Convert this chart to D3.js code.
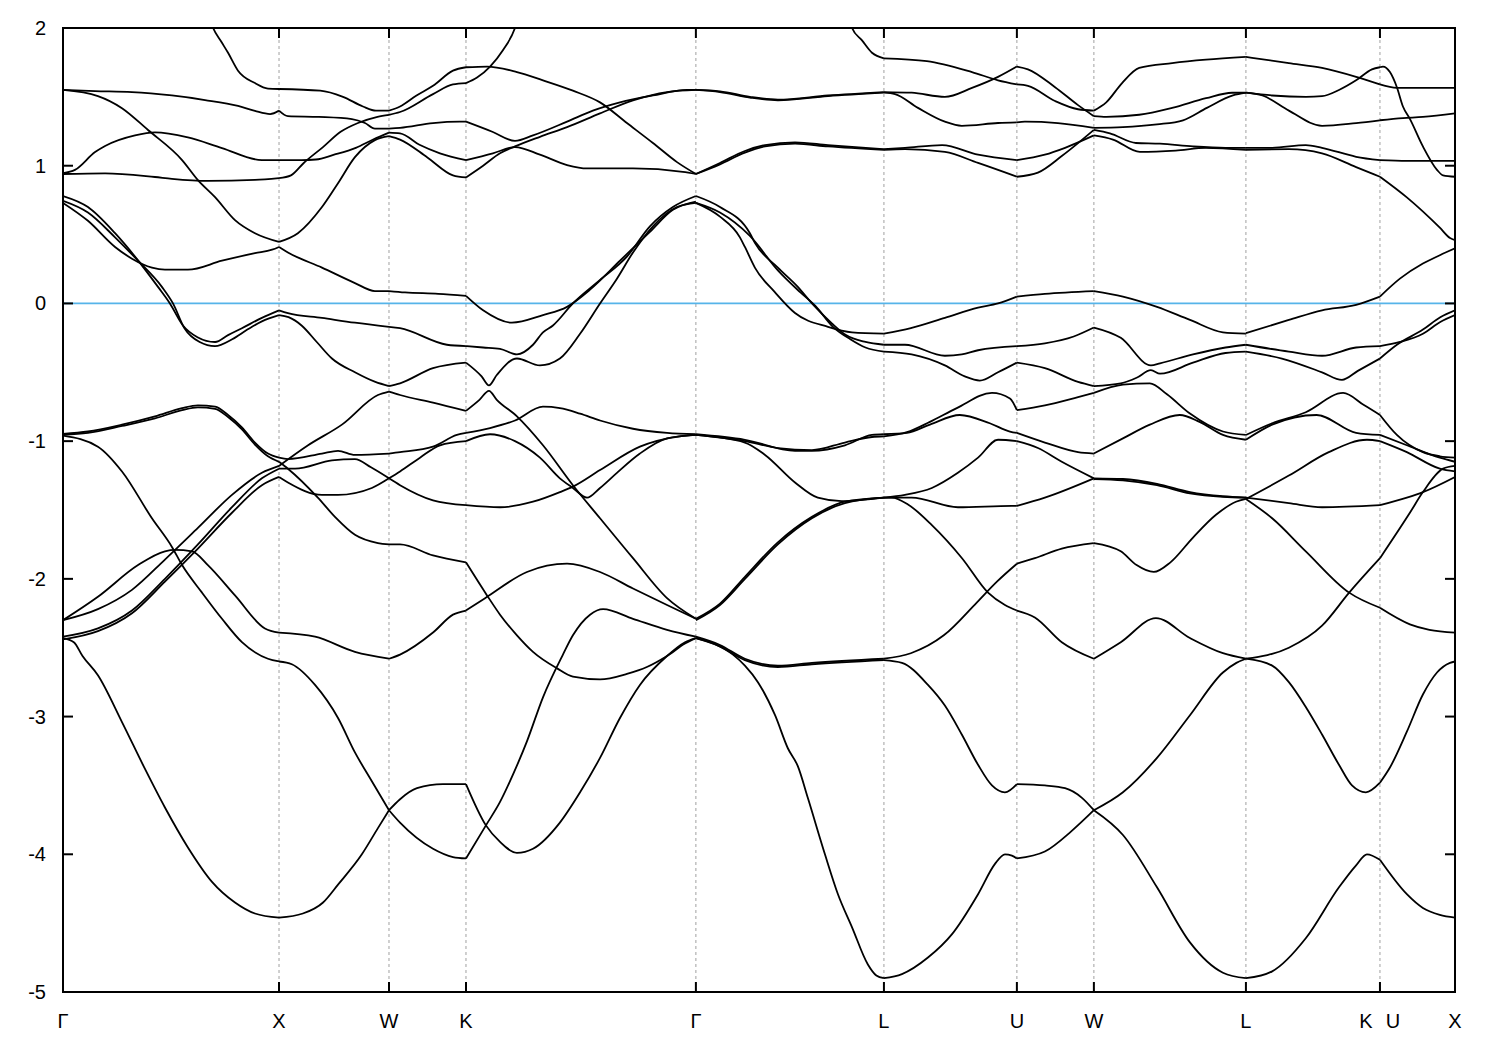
<!DOCTYPE html>
<html><head><meta charset="utf-8">
<script src="https://cdn.jsdelivr.net/npm/d3@7"></script>
<style>body{margin:0;background:#fff} svg{display:block}</style>
</head><body><svg id="c" width="1500" height="1050"></svg>
<script>
// High-symmetry points along the k-path (units of 2π/a)
const kTicks = [0, 0.996, 1.503, 1.858, 2.918, 3.785, 4.398, 4.753, 5.454, 6.072, 6.418];
const kLabels = ["Γ","X","W","K","Γ","L","U","W","L","K U","X"];
const eTicks = [-5,-4,-3,-2,-1,0,1,2];
const fermi = 0;

// Bands per path segment: each curve is a list of [k, E]
const segGX = [
 [[0.66,2.15],[0.692,2.0],[0.73,1.9],[0.761,1.82],[0.807,1.69],[0.885,1.60],[0.945,1.56],[0.996,1.557]],
 [[0,1.55],[0.148,1.542],[0.318,1.535],[0.502,1.51],[0.655,1.477],[0.807,1.434],[0.885,1.398],[0.955,1.375],[0.996,1.40]],
 [[0,1.55],[0.161,1.506],[0.272,1.418],[0.392,1.259],[0.549,1.041],[0.622,0.896],[0.701,0.772],[0.793,0.605],[0.885,0.51],[0.996,0.447]],
 [[0,0.946],[0.055,0.97],[0.148,1.099],[0.194,1.143],[0.332,1.22],[0.424,1.242],[0.576,1.205],[0.733,1.128],[0.917,1.041],[0.996,1.041]],
 [[0,0.94],[0.194,0.945],[0.424,0.918],[0.502,0.905],[0.668,0.89],[0.885,0.897],[0.996,0.91]],
 [[0,0.78],[0.115,0.70],[0.24,0.51],[0.332,0.34],[0.438,0.12],[0.493,0.0],[0.553,-0.16],[0.62,-0.245],[0.701,-0.28],[0.761,-0.23],[0.825,-0.18],[0.917,-0.105],[0.996,-0.05]],
 [[0,0.745],[0.115,0.66],[0.24,0.48],[0.346,0.31],[0.456,0.12],[0.507,0.0],[0.56,-0.18],[0.63,-0.28],[0.701,-0.31],[0.78,-0.26],[0.85,-0.19],[0.917,-0.13],[0.996,-0.085]],
 [[0,0.73],[0.115,0.60],[0.24,0.41],[0.318,0.325],[0.41,0.26],[0.47,0.245],[0.576,0.245],[0.733,0.31],[0.885,0.365],[0.964,0.39],[0.996,0.41]],
 [[0,-0.947],[0.115,-0.93],[0.272,-0.88],[0.424,-0.82],[0.549,-0.76],[0.622,-0.74],[0.701,-0.75],[0.761,-0.81],[0.825,-0.90],[0.885,-1.01],[0.945,-1.09],[0.996,-1.12]],
 [[0,-0.955],[0.115,-0.94],[0.272,-0.89],[0.424,-0.835],[0.549,-0.775],[0.622,-0.755],[0.701,-0.765],[0.761,-0.825],[0.825,-0.915],[0.885,-1.025],[0.945,-1.11],[0.996,-1.15]],
 [[0,-0.96],[0.161,-1.04],[0.272,-1.22],[0.41,-1.56],[0.503,-1.77],[0.549,-1.90],[0.641,-2.10],[0.733,-2.29],[0.825,-2.46],[0.945,-2.58],[0.996,-2.60]],
 [[0,-2.30],[0.161,-2.13],[0.346,-1.90],[0.47,-1.80],[0.516,-1.79],[0.595,-1.80],[0.668,-1.90],[0.793,-2.12],[0.931,-2.36],[0.996,-2.39]],
 [[0,-2.30],[0.161,-2.22],[0.318,-2.08],[0.47,-1.86],[0.622,-1.63],[0.779,-1.39],[0.917,-1.23],[0.996,-1.18]],
 [[0,-2.42],[0.161,-2.36],[0.318,-2.23],[0.47,-2.0],[0.622,-1.75],[0.779,-1.48],[0.917,-1.27],[0.996,-1.20]],
 [[0,-2.44],[0.161,-2.38],[0.318,-2.25],[0.47,-2.02],[0.622,-1.78],[0.779,-1.52],[0.917,-1.32],[0.996,-1.26]],
 [[0,-2.43],[0.05,-2.46],[0.09,-2.56],[0.161,-2.70],[0.272,-3.04],[0.378,-3.38],[0.47,-3.66],[0.576,-3.95],[0.687,-4.20],[0.793,-4.35],[0.885,-4.43],[0.996,-4.46]]
];
const segXW = [
 [[0.996,1.557],[1.186,1.545],[1.291,1.50],[1.383,1.43],[1.443,1.40],[1.503,1.40]],
 [[0.996,1.40],[1.037,1.36],[1.18,1.354],[1.332,1.339],[1.392,1.31],[1.438,1.27],[1.503,1.27]],
 [[0.996,0.447],[1.083,0.51],[1.194,0.70],[1.268,0.873],[1.346,1.062],[1.438,1.186],[1.503,1.215]],
 [[0.996,1.041],[1.1,1.041],[1.166,1.045],[1.25,1.08],[1.35,1.13],[1.43,1.19],[1.503,1.24]],
 [[0.996,0.91],[1.051,0.93],[1.11,1.02],[1.2,1.137],[1.28,1.246],[1.36,1.31],[1.45,1.355],[1.503,1.37]],
 [[0.996,0.41],[1.037,0.37],[1.194,0.26],[1.346,0.148],[1.438,0.09],[1.503,0.09]],
 [[0.996,-0.05],[1.037,-0.07],[1.194,-0.105],[1.346,-0.14],[1.503,-0.17]],
 [[0.996,-0.085],[1.04,-0.10],[1.10,-0.16],[1.17,-0.28],[1.24,-0.40],[1.346,-0.50],[1.44,-0.57],[1.503,-0.60]],
 [[0.996,-1.12],[1.037,-1.13],[1.194,-1.09],[1.268,-1.07],[1.346,-1.10],[1.503,-1.09]],
 [[0.996,-1.15],[1.037,-1.2],[1.175,-1.41],[1.254,-1.55],[1.346,-1.68],[1.452,-1.74],[1.503,-1.75]],
 [[0.996,-1.18],[1.13,-1.03],[1.286,-0.88],[1.452,-0.665],[1.503,-0.64]],
 [[0.996,-1.20],[1.07,-1.20],[1.24,-1.14],[1.346,-1.13],[1.42,-1.19],[1.503,-1.27]],
 [[0.996,-1.26],[1.037,-1.30],[1.194,-1.39],[1.268,-1.39],[1.424,-1.34],[1.503,-1.27]],
 [[0.996,-2.39],[1.162,-2.42],[1.346,-2.53],[1.503,-2.58]],
 [[0.996,-2.60],[1.055,-2.62],[1.162,-2.77],[1.268,-3.01],[1.346,-3.26],[1.424,-3.47],[1.503,-3.68]],
 [[0.996,-4.46],[1.106,-4.43],[1.199,-4.35],[1.268,-4.22],[1.378,-4.0],[1.452,-3.81],[1.503,-3.68]]
];
const segWK = [
 [[1.503,1.40],[1.554,1.43],[1.63,1.51],[1.706,1.58],[1.798,1.69],[1.858,1.715]],
 [[1.503,1.37],[1.554,1.39],[1.706,1.52],[1.798,1.59],[1.858,1.60]],
 [[1.503,1.27],[1.554,1.275],[1.706,1.31],[1.83,1.32],[1.858,1.32]],
 [[1.503,1.24],[1.554,1.235],[1.646,1.15],[1.738,1.09],[1.858,1.04]],
 [[1.503,1.215],[1.554,1.19],[1.68,1.06],[1.798,0.93],[1.858,0.915]],
 [[1.503,0.09],[1.577,0.08],[1.73,0.07],[1.858,0.055]],
 [[1.503,-0.17],[1.554,-0.18],[1.77,-0.30],[1.858,-0.31]],
 [[1.503,-0.60],[1.554,-0.58],[1.706,-0.47],[1.858,-0.43]],
 [[1.503,-0.64],[1.554,-0.665],[1.706,-0.72],[1.858,-0.78]],
 [[1.503,-1.09],[1.554,-1.08],[1.706,-1.04],[1.816,-0.955],[1.858,-0.94]],
 [[1.503,-1.27],[1.554,-1.22],[1.646,-1.12],[1.738,-1.03],[1.858,-1.0]],
 [[1.503,-1.27],[1.554,-1.32],[1.706,-1.43],[1.858,-1.465]],
 [[1.503,-1.75],[1.554,-1.75],[1.706,-1.83],[1.858,-1.88]],
 [[1.503,-2.58],[1.554,-2.55],[1.706,-2.39],[1.798,-2.26],[1.858,-2.23]],
 [[1.503,-3.68],[1.554,-3.77],[1.706,-3.96],[1.798,-4.02],[1.858,-4.03]],
 [[1.503,-3.68],[1.554,-3.6],[1.632,-3.52],[1.752,-3.49],[1.858,-3.49]]
];
const segKG = [
 [[1.858,1.715],[1.955,1.72],[2.093,1.68],[2.213,1.62],[2.351,1.545],[2.476,1.46],[2.60,1.31],[2.72,1.165],[2.831,1.026],[2.918,0.94]],
 [[1.858,1.60],[1.909,1.64],[1.969,1.72],[2.029,1.84],[2.084,2.0],[2.12,2.2]],
 [[1.858,1.32],[1.982,1.245],[2.084,1.18],[2.167,1.22],[2.324,1.32],[2.443,1.40],[2.568,1.46],[2.72,1.51],[2.877,1.55],[2.918,1.55]],
 [[1.858,0.915],[1.937,1.0],[2.015,1.09],[2.084,1.14],[2.199,1.21],[2.324,1.28],[2.476,1.38],[2.628,1.475],[2.785,1.535],[2.918,1.55]],
 [[1.858,1.04],[1.982,1.09],[2.084,1.135],[2.199,1.08],[2.324,1.005],[2.416,0.98],[2.628,0.98],[2.858,0.955],[2.918,0.94]],
 [[1.858,-0.31],[1.937,-0.32],[2.015,-0.33],[2.093,-0.37],[2.167,-0.30],[2.213,-0.21],[2.259,-0.16],[2.351,0.0],[2.476,0.17],[2.60,0.34],[2.706,0.56],[2.812,0.70],[2.918,0.78]],
 [[1.858,0.055],[1.937,-0.05],[2.07,-0.14],[2.213,-0.085],[2.324,-0.025],[2.43,0.10],[2.568,0.31],[2.706,0.52],[2.812,0.68],[2.918,0.74]],
 [[1.858,-0.43],[1.93,-0.53],[1.964,-0.595],[2.0,-0.52],[2.093,-0.40],[2.199,-0.45],[2.291,-0.40],[2.384,-0.22],[2.476,0.0],[2.554,0.18],[2.628,0.37],[2.72,0.56],[2.831,0.70],[2.918,0.73]],
 [[1.858,-0.78],[1.92,-0.70],[1.964,-0.635],[2.0,-0.70],[2.093,-0.82],[2.213,-1.03],[2.351,-1.32],[2.476,-1.56],[2.628,-1.85],[2.785,-2.14],[2.918,-2.29]],
 [[1.858,-0.94],[1.969,-0.905],[2.084,-0.85],[2.213,-0.75],[2.291,-0.76],[2.384,-0.80],[2.476,-0.85],[2.628,-0.91],[2.785,-0.94],[2.918,-0.95]],
 [[1.858,-1.0],[1.969,-0.95],[2.084,-1.0],[2.199,-1.12],[2.291,-1.27],[2.351,-1.34],[2.416,-1.41],[2.476,-1.34],[2.554,-1.23],[2.66,-1.09],[2.785,-0.98],[2.918,-0.955]],
 [[1.858,-1.465],[2.015,-1.48],[2.167,-1.44],[2.291,-1.37],[2.351,-1.33],[2.476,-1.21],[2.66,-1.04],[2.844,-0.965],[2.918,-0.955]],
 [[1.858,-1.88],[1.955,-2.12],[2.015,-2.26],[2.093,-2.41],[2.167,-2.53],[2.278,-2.65],[2.351,-2.71],[2.476,-2.73],[2.60,-2.69],[2.692,-2.64],[2.785,-2.56],[2.868,-2.47],[2.918,-2.43]],
 [[1.858,-2.23],[1.946,-2.14],[2.139,-1.95],[2.324,-1.89],[2.476,-1.95],[2.628,-2.07],[2.785,-2.19],[2.918,-2.29]],
 [[1.858,-4.03],[1.95,-3.79],[2.015,-3.62],[2.075,-3.42],[2.139,-3.18],[2.213,-2.86],[2.305,-2.55],[2.351,-2.41],[2.43,-2.26],[2.49,-2.22],[2.628,-2.29],[2.785,-2.37],[2.918,-2.42]],
 [[1.858,-3.49],[1.95,-3.79],[2.015,-3.91],[2.093,-3.99],[2.167,-3.96],[2.291,-3.77],[2.384,-3.55],[2.476,-3.30],[2.568,-3.01],[2.66,-2.77],[2.785,-2.56],[2.868,-2.46],[2.918,-2.43]]
];
const segGL = [
 [[3.61,2.15],[3.638,2.0],[3.684,1.91],[3.730,1.82],[3.785,1.78]],
 [[2.918,1.55],[3.029,1.54],[3.167,1.50],[3.296,1.48],[3.527,1.51],[3.785,1.535]],
 [[2.918,1.55],[3.029,1.535],[3.167,1.495],[3.296,1.475],[3.527,1.505],[3.785,1.53]],
 [[2.918,0.94],[3.029,1.02],[3.144,1.107],[3.237,1.15],[3.375,1.17],[3.527,1.15],[3.785,1.12]],
 [[2.918,0.94],[3.029,1.01],[3.144,1.095],[3.237,1.14],[3.375,1.16],[3.527,1.14],[3.785,1.115]],
 [[2.918,0.73],[3.029,0.63],[3.121,0.48],[3.144,0.41],[3.19,0.26],[3.283,0.08],[3.375,-0.07],[3.527,-0.17],[3.638,-0.21],[3.785,-0.22]],
 [[2.918,0.78],[3.029,0.70],[3.167,0.51],[3.19,0.44],[3.296,0.26],[3.388,0.12],[3.453,0.0],[3.545,-0.145],[3.61,-0.23],[3.70,-0.28],[3.785,-0.30]],
 [[2.918,0.73],[3.029,0.66],[3.167,0.49],[3.296,0.24],[3.40,0.08],[3.47,-0.02],[3.55,-0.17],[3.63,-0.26],[3.70,-0.32],[3.785,-0.35]],
 [[2.918,-0.95],[3.144,-0.99],[3.375,-1.07],[3.453,-1.07],[3.605,-1.03],[3.730,-0.955],[3.785,-0.95]],
 [[2.918,-0.955],[3.144,-1.0],[3.296,-1.05],[3.453,-1.065],[3.605,-1.01],[3.730,-0.97],[3.785,-0.965]],
 [[2.918,-0.955],[3.144,-1.01],[3.237,-1.10],[3.375,-1.30],[3.48,-1.41],[3.59,-1.435],[3.785,-1.41]],
 [[2.918,-2.30],[3.029,-2.19],[3.144,-2.0],[3.296,-1.75],[3.453,-1.56],[3.605,-1.45],[3.785,-1.41]],
 [[2.918,-2.29],[3.029,-2.18],[3.144,-1.985],[3.296,-1.735],[3.453,-1.55],[3.605,-1.44],[3.785,-1.41]],
 [[2.918,-2.42],[3.029,-2.48],[3.144,-2.58],[3.296,-2.63],[3.453,-2.61],[3.785,-2.58]],
 [[2.918,-2.43],[3.029,-2.49],[3.144,-2.59],[3.296,-2.64],[3.453,-2.62],[3.785,-2.59]],
 [[2.918,-2.43],[3.0,-2.47],[3.089,-2.55],[3.144,-2.63],[3.204,-2.75],[3.283,-2.99],[3.342,-3.23],[3.388,-3.36],[3.434,-3.59],[3.513,-4.0],[3.573,-4.29],[3.638,-4.53],[3.711,-4.80],[3.75,-4.88],[3.785,-4.90]]
];
const segLU = [
 [[3.785,1.78],[3.983,1.76],[4.191,1.68],[4.311,1.62],[4.398,1.59]],
 [[3.785,1.535],[3.913,1.53],[4.066,1.50],[4.191,1.565],[4.311,1.645],[4.398,1.72]],
 [[3.785,1.53],[3.836,1.52],[3.942,1.42],[4.066,1.32],[4.144,1.29],[4.311,1.31],[4.398,1.315]],
 [[3.785,1.12],[3.882,1.13],[4.053,1.15],[4.219,1.08],[4.398,1.04]],
 [[3.785,1.115],[3.882,1.12],[4.066,1.10],[4.219,1.02],[4.398,0.92]],
 [[3.785,-0.22],[3.909,-0.18],[4.066,-0.105],[4.219,-0.03],[4.311,0.0],[4.398,0.05]],
 [[3.785,-0.30],[3.882,-0.30],[4.066,-0.38],[4.144,-0.37],[4.219,-0.34],[4.398,-0.31]],
 [[3.785,-0.35],[3.913,-0.37],[4.066,-0.45],[4.158,-0.53],[4.227,-0.56],[4.311,-0.50],[4.398,-0.43]],
 [[3.785,-0.95],[3.891,-0.94],[3.997,-0.88],[4.135,-0.81],[4.273,-0.87],[4.366,-0.93],[4.398,-0.94]],
 [[3.785,-0.965],[3.891,-0.935],[3.997,-0.86],[4.121,-0.76],[4.283,-0.65],[4.366,-0.69],[4.398,-0.775]],
 [[3.785,-1.41],[3.913,-1.41],[4.126,-1.48],[4.375,-1.47],[4.398,-1.47]],
 [[3.785,-1.41],[3.882,-1.39],[4.006,-1.34],[4.126,-1.23],[4.219,-1.12],[4.311,-0.99],[4.398,-1.0]],
 [[3.785,-1.41],[3.822,-1.41],[3.896,-1.46],[4.006,-1.61],[4.145,-1.85],[4.265,-2.10],[4.343,-2.19],[4.398,-2.23]],
 [[3.785,-2.58],[3.909,-2.54],[4.061,-2.41],[4.214,-2.17],[4.306,-2.02],[4.398,-1.89]],
 [[3.785,-2.59],[3.868,-2.61],[3.988,-2.77],[4.066,-2.92],[4.144,-3.13],[4.219,-3.35],[4.283,-3.50],[4.343,-3.55],[4.398,-3.49]],
 [[3.785,-4.90],[3.868,-4.87],[3.988,-4.75],[4.099,-4.58],[4.219,-4.29],[4.297,-4.07],[4.343,-4.0],[4.375,-4.01],[4.398,-4.03]]
];
const segUW = [
 [[4.398,1.59],[4.449,1.58],[4.574,1.47],[4.68,1.41],[4.753,1.40]],
 [[4.398,1.72],[4.449,1.70],[4.574,1.57],[4.68,1.44],[4.753,1.36]],
 [[4.398,1.315],[4.435,1.32],[4.587,1.31],[4.753,1.275]],
 [[4.398,1.04],[4.527,1.08],[4.62,1.13],[4.753,1.22]],
 [[4.398,0.92],[4.495,0.95],[4.605,1.07],[4.753,1.26]],
 [[4.398,0.05],[4.527,0.07],[4.753,0.09]],
 [[4.398,-0.31],[4.527,-0.29],[4.66,-0.24],[4.753,-0.175]],
 [[4.398,-0.43],[4.527,-0.47],[4.68,-0.57],[4.753,-0.60]],
 [[4.398,-0.94],[4.527,-1.01],[4.68,-1.08],[4.753,-1.09]],
 [[4.398,-0.775],[4.527,-0.74],[4.68,-0.68],[4.753,-0.65]],
 [[4.398,-1.47],[4.527,-1.41],[4.753,-1.27]],
 [[4.398,-1.0],[4.495,-1.05],[4.605,-1.15],[4.753,-1.27]],
 [[4.398,-2.23],[4.481,-2.28],[4.605,-2.46],[4.753,-2.58]],
 [[4.398,-1.89],[4.481,-1.85],[4.605,-1.78],[4.753,-1.74]],
 [[4.398,-3.49],[4.527,-3.50],[4.62,-3.52],[4.698,-3.59],[4.753,-3.68]],
 [[4.398,-4.03],[4.527,-3.98],[4.651,-3.83],[4.753,-3.68]]
];
const segWL = [
 [[4.753,1.40],[4.81,1.46],[4.883,1.60],[4.962,1.71],[5.114,1.745],[5.27,1.77],[5.454,1.79]],
 [[4.753,1.36],[4.81,1.355],[4.962,1.37],[5.114,1.42],[5.27,1.49],[5.39,1.53],[5.454,1.53]],
 [[4.753,1.275],[4.887,1.28],[5.044,1.30],[5.164,1.33],[5.274,1.42],[5.394,1.51],[5.454,1.53]],
 [[4.753,1.26],[4.827,1.235],[4.947,1.165],[5.058,1.16],[5.21,1.14],[5.36,1.13],[5.454,1.13]],
 [[4.753,1.22],[4.841,1.19],[4.965,1.10],[5.13,1.11],[5.27,1.13],[5.454,1.115]],
 [[4.753,0.09],[4.887,0.05],[5.044,-0.025],[5.196,-0.12],[5.348,-0.21],[5.454,-0.22]],
 [[4.753,-0.175],[4.877,-0.25],[5.016,-0.45],[5.058,-0.435],[5.21,-0.37],[5.36,-0.32],[5.454,-0.30]],
 [[4.753,-0.60],[4.877,-0.58],[4.95,-0.54],[5.016,-0.485],[5.058,-0.51],[5.21,-0.43],[5.36,-0.36],[5.454,-0.35]],
 [[4.753,-0.65],[4.887,-0.59],[5.011,-0.58],[5.09,-0.66],[5.196,-0.80],[5.348,-0.93],[5.454,-0.955]],
 [[4.753,-1.09],[4.887,-0.98],[5.011,-0.88],[5.149,-0.81],[5.24,-0.86],[5.348,-0.955],[5.454,-0.99]],
 [[4.753,-1.27],[4.887,-1.275],[5.044,-1.31],[5.196,-1.37],[5.348,-1.40],[5.454,-1.41]],
 [[4.753,-1.275],[4.887,-1.285],[5.044,-1.32],[5.196,-1.38],[5.348,-1.405],[5.454,-1.41]],
 [[4.753,-1.74],[4.877,-1.80],[4.95,-1.90],[5.029,-1.95],[5.106,-1.88],[5.21,-1.70],[5.316,-1.535],[5.408,-1.44],[5.454,-1.42]],
 [[4.753,-2.58],[4.877,-2.46],[5.039,-2.285],[5.196,-2.43],[5.348,-2.54],[5.454,-2.58]],
 [[4.753,-3.68],[4.887,-3.55],[5.044,-3.30],[5.196,-2.99],[5.348,-2.68],[5.41,-2.61],[5.454,-2.58]],
 [[4.753,-3.68],[4.887,-3.86],[5.044,-4.24],[5.196,-4.64],[5.348,-4.86],[5.454,-4.90]]
];
const segLK = [
 [[5.454,1.79],[5.652,1.745],[5.805,1.71],[5.962,1.645],[6.072,1.59]],
 [[5.454,1.53],[5.575,1.51],[5.73,1.50],[5.805,1.505],[5.883,1.55],[5.962,1.62],[6.035,1.70],[6.072,1.715]],
 [[5.454,1.53],[5.53,1.51],[5.652,1.40],[5.805,1.29],[5.962,1.31],[6.072,1.33]],
 [[5.454,1.13],[5.575,1.13],[5.73,1.15],[5.805,1.13],[5.962,1.065],[6.072,1.04]],
 [[5.454,1.115],[5.652,1.12],[5.805,1.09],[5.962,0.99],[6.072,0.92]],
 [[5.454,-0.215],[5.652,-0.12],[5.805,-0.05],[5.962,-0.01],[6.072,0.05]],
 [[5.454,-0.30],[5.652,-0.35],[5.805,-0.38],[5.962,-0.32],[6.072,-0.31]],
 [[5.454,-0.35],[5.62,-0.40],[5.805,-0.50],[5.897,-0.555],[5.97,-0.49],[6.072,-0.40]],
 [[5.454,-0.955],[5.575,-0.87],[5.73,-0.79],[5.902,-0.65],[6.0,-0.74],[6.072,-0.81]],
 [[5.454,-0.99],[5.575,-0.88],[5.78,-0.81],[5.962,-0.94],[6.072,-0.955]],
 [[5.454,-1.41],[5.652,-1.45],[5.805,-1.48],[6.072,-1.465]],
 [[5.454,-1.42],[5.652,-1.25],[5.836,-1.08],[6.012,-0.99],[6.072,-1.0]],
 [[5.454,-1.42],[5.575,-1.56],[5.73,-1.80],[5.93,-2.10],[6.072,-2.21]],
 [[5.454,-2.58],[5.652,-2.50],[5.805,-2.34],[5.93,-2.10],[6.072,-1.85]],
 [[5.454,-2.58],[5.575,-2.63],[5.652,-2.75],[5.73,-2.93],[5.805,-3.13],[5.883,-3.35],[5.943,-3.50],[6.007,-3.55],[6.072,-3.48]],
 [[5.454,-4.90],[5.575,-4.85],[5.73,-4.61],[5.883,-4.24],[5.962,-4.08],[6.012,-4.0],[6.072,-4.04]]
];
const segUX = [
 [[6.072,1.59],[6.15,1.565],[6.418,1.565]],
 [[6.072,1.715],[6.086,1.72],[6.118,1.68],[6.15,1.57],[6.178,1.43],[6.21,1.34],[6.27,1.14],[6.335,0.97],[6.363,0.93],[6.418,0.92]],
 [[6.072,1.33],[6.178,1.345],[6.27,1.355],[6.418,1.38]],
 [[6.072,1.04],[6.196,1.035],[6.418,1.035]],
 [[6.072,0.92],[6.196,0.77],[6.348,0.55],[6.395,0.475],[6.418,0.46]],
 [[6.072,0.05],[6.164,0.18],[6.27,0.29],[6.348,0.35],[6.418,0.40]],
 [[6.072,-0.40],[6.15,-0.30],[6.27,-0.19],[6.35,-0.10],[6.418,-0.05]],
 [[6.072,-0.31],[6.164,-0.28],[6.27,-0.22],[6.35,-0.135],[6.418,-0.085]],
 [[6.072,-0.81],[6.15,-0.955],[6.27,-1.08],[6.348,-1.11],[6.418,-1.12]],
 [[6.072,-0.955],[6.196,-1.03],[6.348,-1.12],[6.418,-1.15]],
 [[6.072,-1.0],[6.196,-1.08],[6.348,-1.20],[6.418,-1.22]],
 [[6.072,-1.465],[6.196,-1.41],[6.27,-1.37],[6.418,-1.26]],
 [[6.072,-1.85],[6.21,-1.52],[6.27,-1.37],[6.363,-1.20],[6.418,-1.18]],
 [[6.072,-2.21],[6.21,-2.33],[6.30,-2.37],[6.418,-2.39]],
 [[6.072,-3.48],[6.118,-3.37],[6.196,-3.11],[6.27,-2.84],[6.335,-2.68],[6.395,-2.61],[6.418,-2.60]],
 [[6.072,-4.04],[6.196,-4.29],[6.27,-4.39],[6.348,-4.44],[6.418,-4.46]]
];

const segments = [segGX, segXW, segWK, segKG, segGL, segLU, segUW, segWL, segLK, segUX];

const svg = d3.select("#c");
const m = {l:63, r:1455, t:28, b:992};
const x = d3.scaleLinear().domain([kTicks[0], kTicks[kTicks.length-1]]).range([m.l, m.r]);
const y = d3.scaleLinear().domain([-5, 2]).range([m.b, m.t]);
const font = "'Liberation Sans', Arial, Helvetica, sans-serif";

svg.append("defs").append("clipPath").attr("id","plot")
  .append("rect").attr("x",m.l).attr("y",m.t).attr("width",m.r-m.l).attr("height",m.b-m.t);

// dotted verticals at interior symmetry points
svg.append("g").selectAll("line").data(kTicks.slice(1,-1)).join("line")
  .attr("x1",d=>x(d)).attr("x2",d=>x(d)).attr("y1",m.t).attr("y2",m.b)
  .attr("stroke","#a0a0a0").attr("stroke-width",1).attr("stroke-dasharray","3,3");

// Fermi level
svg.append("line").attr("x1",m.l).attr("x2",m.r).attr("y1",y(fermi)).attr("y2",y(fermi))
  .attr("stroke","#56b4e9").attr("stroke-width",1.8);

// bands
const line = d3.line().x(d=>x(d[0])).y(d=>y(d[1])).curve(d3.curveMonotoneX);
const gb = svg.append("g").attr("clip-path","url(#plot)");
segments.forEach(seg=>{
  gb.selectAll(null).data(seg).join("path")
    .attr("d",line).attr("fill","none").attr("stroke","#000").attr("stroke-width",1.8)
    .attr("stroke-linejoin","round");
});

// frame
svg.append("rect").attr("x",m.l).attr("y",m.t).attr("width",m.r-m.l).attr("height",m.b-m.t)
  .attr("fill","none").attr("stroke","#000").attr("stroke-width",2);

// y ticks both sides (inward)
const gy = svg.append("g");
eTicks.forEach(v=>{
  gy.append("line").attr("x1",m.l).attr("x2",m.l+10).attr("y1",y(v)).attr("y2",y(v)).attr("stroke","#000").attr("stroke-width",2);
  gy.append("line").attr("x1",m.r-10).attr("x2",m.r).attr("y1",y(v)).attr("y2",y(v)).attr("stroke","#000").attr("stroke-width",2);
  gy.append("text").attr("x",46).attr("y",y(v)).attr("dy","0.35em").attr("text-anchor","end")
    .attr("font-family",font).attr("font-size",20).text(v);
});

// x ticks top & bottom (inward) and labels
const gx = svg.append("g");
kTicks.forEach((k,i)=>{
  gx.append("line").attr("x1",x(k)).attr("x2",x(k)).attr("y1",m.b).attr("y2",m.b-10).attr("stroke","#000").attr("stroke-width",2);
  gx.append("line").attr("x1",x(k)).attr("x2",x(k)).attr("y1",m.t).attr("y2",m.t+10).attr("stroke","#000").attr("stroke-width",2);
  const lab = kLabels[i];
  if (lab === "K U") {
    gx.append("text").attr("x",x(k)-14).attr("y",1028).attr("text-anchor","middle")
      .attr("font-family",font).attr("font-size",20).text("K");
    gx.append("text").attr("x",x(k)+13).attr("y",1028).attr("text-anchor","middle")
      .attr("font-family",font).attr("font-size",20).text("U");
  } else {
    gx.append("text").attr("x",x(k)).attr("y",1028).attr("text-anchor","middle")
      .attr("font-family",font).attr("font-size",20).text(lab);
  }
});
</script></body></html>
